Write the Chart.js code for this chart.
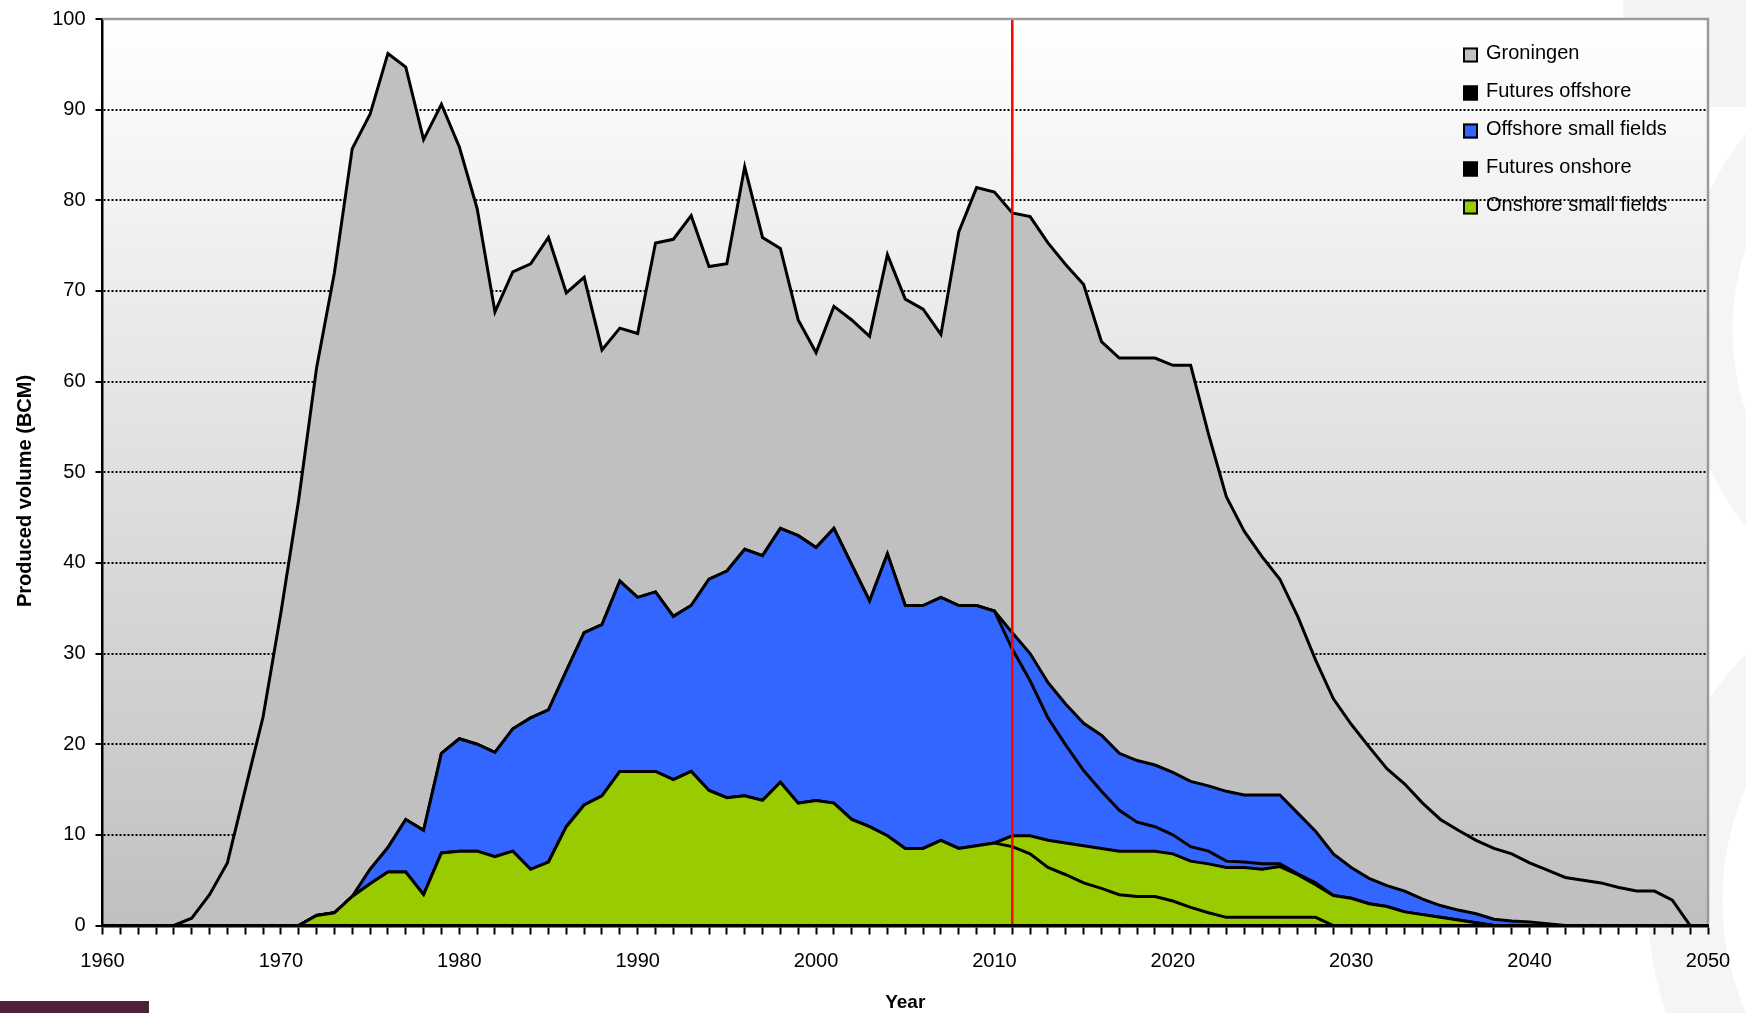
<!DOCTYPE html>
<html>
<head>
<meta charset="utf-8">
<title>Produced volume (BCM)</title>
<script src="https://cdn.jsdelivr.net/npm/chart.js@4.4.1/dist/chart.umd.min.js"></script>
<style>
    html, body { margin: 0; padding: 0; background: #ffffff; }
    #wrap { width: 1746px; height: 1013px; }
</style>
</head>
<body>
<div id="wrap"><canvas id="gas-chart" width="1746" height="1013"></canvas></div>
<script>
    "use strict";

    // Years on the x axis (1960 - 2050)
    var years = [];
    for (var yr = 1960; yr <= 2050; yr++) {
        years.push(yr);
    }
    var forecastYear = 2011;

    // Series values (BCM per year), bottom of the stack first
    var onshoreSmall = [
        0, 0, 0, 0, 0, 0, 0, 0, 0, 0, 0, 0,
        1.1, 1.4, 3.2, 4.6, 5.9, 5.9, 3.4, 8.0,
        8.2, 8.2, 7.6, 8.2, 6.2, 7.0, 10.9, 13.3, 14.3, 17.0,
        17.0, 17.0, 16.1, 17.0, 14.9, 14.1, 14.3, 13.8, 15.8, 13.5,
        13.8, 13.5, 11.7, 10.9, 9.9, 8.5, 8.5, 9.4, 8.5, 8.8,
        9.1, 8.7, 7.9, 6.4, 5.6, 4.7, 4.1, 3.4, 3.2, 3.2,
        2.7, 2.0, 1.4, 0.9, 0.9, 0.9, 0.9, 0.9, 0.9, 0,
        0, 0, 0, 0, 0, 0, 0, 0, 0, 0,
        0, 0, 0, 0, 0, 0, 0, 0, 0, 0, 0
    ];
    var futuresOnshore = [
        0, 0, 0, 0, 0, 0, 0, 0, 0, 0,
        0, 0, 0, 0, 0, 0, 0, 0, 0, 0,
        0, 0, 0, 0, 0, 0, 0, 0, 0, 0,
        0, 0, 0, 0, 0, 0, 0, 0, 0, 0,
        0, 0, 0, 0, 0, 0, 0, 0, 0, 0,
        0, 1.2, 2.0, 3.0, 3.5, 4.1, 4.4, 4.8, 5.0, 5.0,
        5.2, 5.1, 5.4, 5.5, 5.5, 5.3, 5.6, 4.7, 3.6, 3.3,
        3.0, 2.4, 2.1, 1.5, 1.2, 0.9, 0.6, 0.3, 0, 0,
        0, 0, 0, 0, 0, 0, 0, 0, 0, 0, 0
    ];
    var offshoreSmall = [
        0, 0, 0, 0, 0, 0, 0, 0, 0, 0,
        0, 0, 0, 0, 0, 1.6, 2.7, 5.8, 7.1, 11.0,
        12.4, 11.8, 11.5, 13.5, 16.7, 16.8, 17.2, 19.0, 18.9, 21.0,
        19.2, 19.8, 18.0, 18.3, 23.3, 25.0, 27.2, 27.0, 28.0, 29.5,
        27.9, 30.3, 28.1, 24.9, 31.1, 26.8, 26.8, 26.8, 26.8, 26.5,
        25.6, 20.6, 17.1, 13.5, 10.8, 8.3, 6.3, 4.5, 3.2, 2.7,
        2.1, 1.6, 1.4, 0.7, 0.6, 0.6, 0.3, 0.1, 0.2, 0,
        0, 0, 0, 0, 0, 0, 0, 0, 0, 0,
        0, 0, 0, 0, 0, 0, 0, 0, 0, 0, 0
    ];
    var futuresOffshore = [
        0, 0, 0, 0, 0, 0, 0, 0, 0, 0,
        0, 0, 0, 0, 0, 0, 0, 0, 0, 0,
        0, 0, 0, 0, 0, 0, 0, 0, 0, 0,
        0, 0, 0, 0, 0, 0, 0, 0, 0, 0,
        0, 0, 0, 0, 0, 0, 0, 0, 0, 0,
        0, 1.8, 3.0, 3.9, 4.5, 5.2, 6.2, 6.3, 6.8, 6.8,
        6.9, 7.2, 7.2, 7.7, 7.4, 7.6, 7.6, 6.7, 5.7, 4.6,
        3.4, 2.8, 2.3, 2.3, 1.7, 1.3, 1.1, 1.0, 0.7, 0.5,
        0.4, 0.2, 0, 0, 0, 0, 0, 0, 0, 0, 0
    ];
    var groningen = [
        0, 0, 0, 0, 0, 0.8, 3.4, 6.9, 15.0, 23.0,
        34.5, 47.0, 60.4, 70.6, 82.5, 83.3, 87.6, 83.0, 76.2, 71.6,
        65.3, 59.1, 48.6, 50.4, 50.1, 52.1, 41.7, 39.2, 30.3, 27.9,
        29.1, 38.5, 41.6, 43.0, 34.5, 33.9, 42.2, 35.1, 30.9, 23.8,
        21.5, 24.5, 27.0, 29.2, 33.0, 33.8, 32.7, 29.0, 41.2, 46.1,
        46.2, 46.3, 48.2, 48.5, 48.5, 48.4, 43.4, 43.6, 44.4, 44.9,
        44.9, 45.9, 38.8, 32.5, 29.1, 26.3, 23.8, 21.7, 18.9, 17.1,
        15.8, 14.5, 12.9, 11.8, 10.6, 9.5, 8.8, 8.1, 7.8, 7.4,
        6.5, 5.9, 5.3, 5.0, 4.7, 4.2, 3.8, 3.8, 2.8, 0, 0
    ];

    // Legend (top to bottom) and swatch colours
    var legendNames = ["Groningen", "Futures offshore", "Offshore small fields", "Futures onshore", "Onshore small fields"];
    var legendSwatch = ["#c0c0c0", "#000000", "#3366ff", "#000000", "#99cc00"];
    var yTitle = "Produced volume (BCM)";

    var fontFamily = "'Liberation Sans', Arial, sans-serif";
    Chart.defaults.font.family = fontFamily;
    Chart.defaults.color = "#000000";


    // Page background, watermark bits and plot gradient
    var pagePaint = {
        id: 'pagePaint',
        beforeDraw: function (chart) {
            var ctx = chart.ctx;
            var a = chart.chartArea;
            ctx.save();
            ctx.fillStyle = '#ffffff';
            ctx.fillRect(0, 0, chart.width, chart.height);

            ctx.fillStyle = '#f4f4f4';
            ctx.fillRect(1623, 0, 123, 107);
            ctx.strokeStyle = '#f5f5f5';
            ctx.lineWidth = 55;
            ctx.beginPath();
            ctx.arc(1995, 330, 290, 0, Math.PI * 2);
            ctx.stroke();
            ctx.lineWidth = 75;
            ctx.beginPath();
            ctx.arc(2005, 900, 320, 0, Math.PI * 2);
            ctx.stroke();

            ctx.fillStyle = '#50223a';
            ctx.fillRect(0, 1001, 149, 12);

            var g = ctx.createLinearGradient(0, a.top, 0, a.bottom);
            g.addColorStop(0, '#ffffff');
            g.addColorStop(1, '#c0c0c0');
            ctx.fillStyle = g;
            ctx.fillRect(a.left, a.top, a.right - a.left, a.bottom - a.top);
            ctx.restore();
        }
    };

    // Red marker line at the forecast start
    var forecastLine = {
        id: 'forecastLine',
        afterDatasetsDraw: function (chart) {
            var ctx = chart.ctx;
            var a = chart.chartArea;
            var x = chart.scales.x.getPixelForValue(years.indexOf(forecastYear));
            ctx.save();
            ctx.strokeStyle = '#ff0000';
            ctx.lineWidth = 2.5;
            ctx.beginPath();
            ctx.moveTo(x, a.top);
            ctx.lineTo(x, a.bottom);
            ctx.stroke();
            ctx.restore();
        }
    };

    // Grey frame on top / right, y title and the legend inside the plot
    var frameLegend = {
        id: 'frameLegend',
        afterDraw: function (chart) {
            var ctx = chart.ctx;
            var a = chart.chartArea;
            ctx.save();
            ctx.strokeStyle = '#9a9a9a';
            ctx.lineWidth = 2.5;
            ctx.beginPath();
            ctx.moveTo(a.left, a.top);
            ctx.lineTo(a.right, a.top);
            ctx.lineTo(a.right, a.bottom - 2);
            ctx.stroke();

            // y axis title
            ctx.save();
            ctx.translate(25, 491);
            ctx.rotate(-Math.PI / 2);
            ctx.font = "bold 20px " + fontFamily;
            ctx.textAlign = 'center';
            ctx.textBaseline = 'middle';
            ctx.fillStyle = '#000000';
            ctx.fillText(yTitle, 0, 0);
            ctx.restore();

            var bx = a.right - 245;
            var by = a.top + 36;
            ctx.font = "20px " + fontFamily;
            ctx.textBaseline = 'middle';
            ctx.textAlign = 'left';
            for (var i = 0; i < legendNames.length; i++) {
                var cy = by + i * 38;
                ctx.fillStyle = legendSwatch[i];
                ctx.fillRect(bx, cy - 7.5, 15, 15);
                ctx.strokeStyle = '#000000';
                ctx.lineWidth = 2;
                ctx.strokeRect(bx + 1, cy - 6.5, 13, 13);
                ctx.fillStyle = '#000000';
                ctx.fillText(legendNames[i], bx + 23, cy - 2);
            }
            ctx.restore();
        }
    };

    function area(label, data, color, fillTo) {
        return {
            label: label,
            data: data,
            backgroundColor: color,
            borderColor: '#000000',
            borderWidth: 3,
            pointRadius: 0,
            pointHoverRadius: 0,
            tension: 0,
            fill: fillTo
        };
    }


    // Stacked area chart
    var ctx1 = document.getElementById('gas-chart').getContext('2d');
    var gasChart = new Chart(ctx1, {
        type: 'line',
        data: {
            labels: years,
            datasets: [
                area("Onshore small fields", onshoreSmall, '#99cc00', 'origin'),
                area("Futures onshore", futuresOnshore, '#99cc00', '-1'),
                area("Offshore small fields", offshoreSmall, '#3366ff', '-1'),
                area("Futures offshore", futuresOffshore, '#3366ff', '-1'),
                area("Groningen", groningen, '#c0c0c0', '-1')
            ]
        },
        options: {
            responsive: false,
            animation: false,
            layout: {
                padding: { left: 0, right: 38, top: 19, bottom: 0 }
            },
            plugins: {
                legend: { display: false },
                tooltip: { enabled: false }
            },
            scales: {
                x: {
                    type: 'category',
                    offset: false,
                    grid: {
                        display: true,
                        drawOnChartArea: false,
                        drawTicks: true,
                        tickLength: 9,
                        tickWidth: 2,
                        tickColor: '#000000'
                    },
                    border: { display: true, color: '#000000', width: 3.5, z: 1 },
                    ticks: {
                        autoSkip: false,
                        maxRotation: 0,
                        minRotation: 0,
                        padding: 15,
                        color: '#000000',
                        font: { size: 20 },
                        callback: function (value) {
                            var y = this.getLabelForValue(value);
                            return (y % 10 === 0) ? String(y) : '';
                        }
                    },
                    title: {
                        display: true,
                        text: 'Year',
                        color: '#000000',
                        font: { size: 19, weight: 'bold', lineHeight: 1 },
                        padding: { top: 0, bottom: 0.5 }
                    },
                    afterFit: function (scale) {
                        scale.height = 87.5;
                        scale.paddingLeft = 0;
                        scale.paddingRight = 0;
                    }
                },
                y: {
                    stacked: true,
                    min: 0,
                    max: 100,
                    ticks: {
                        stepSize: 10,
                        padding: 10,
                        color: '#000000',
                        font: { size: 20 }
                    },
                    grid: {
                        color: function (c) {
                            return (c.tick && c.tick.value > 0 && c.tick.value < 100) ? '#000000' : 'rgba(0,0,0,0)';
                        },
                        lineWidth: 2,
                        tickColor: '#000000',
                        tickLength: 7,
                        tickWidth: 2,
                        tickBorderDash: []
                    },
                    border: { display: true, color: '#000000', width: 2.5, z: 1, dash: [2, 2] },
                    title: { display: false },
                    afterFit: function (scale) {
                        scale.width = 102.5;
                        scale.paddingTop = 0;
                        scale.paddingBottom = 0;
                    }
                }
            }
        },
        plugins: [pagePaint, forecastLine, frameLegend]
    });
</script>
</body>
</html>
